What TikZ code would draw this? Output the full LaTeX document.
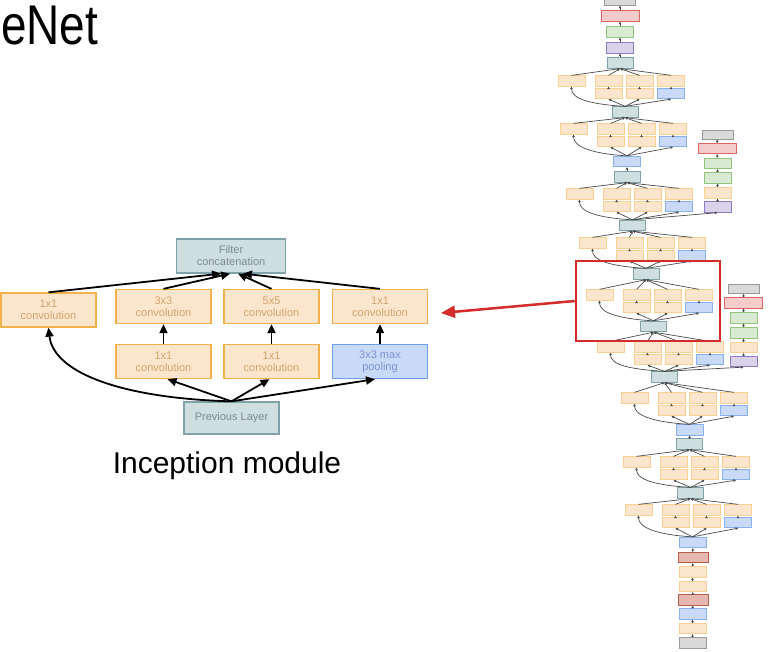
\documentclass[tikz,border=0pt]{standalone}
\usepackage{fontspec}
\setmainfont{Liberation Sans}
\usetikzlibrary{arrows.meta}

\definecolor{orfill}{HTML}{FCE5CD}
\definecolor{ordraw}{HTML}{F1B24A}
\definecolor{ortext}{HTML}{D3A46C}
\definecolor{tefill}{HTML}{CFDFE0}
\definecolor{tedraw}{HTML}{7FA3A8}
\definecolor{tetext}{HTML}{7D8B8C}
\definecolor{blfill}{HTML}{C9DAF8}
\definecolor{bldraw}{HTML}{6D9EEB}
\definecolor{bltext}{HTML}{7C94D6}
\definecolor{grfill}{HTML}{D9D9D9}
\definecolor{grdraw}{HTML}{999999}
\definecolor{rdfill}{HTML}{F4CCCC}
\definecolor{rddraw}{HTML}{E06666}
\definecolor{brfill}{HTML}{E6B8AF}
\definecolor{brdraw}{HTML}{B45F4E}
\definecolor{gnfill}{HTML}{D9EAD3}
\definecolor{gndraw}{HTML}{93C47D}
\definecolor{pufill}{HTML}{D9D2E9}
\definecolor{pudraw}{HTML}{8E7CC3}
\definecolor{focusred}{HTML}{D52B2B}

\tikzset{
  mod/.style={rectangle, line width=1.3pt, minimum width=95pt, minimum height=34pt,
    inner sep=0pt, align=center, font=\fontsize{11}{12}\selectfont},
  modor/.style={mod, draw=ordraw, fill=orfill, text=ortext},
  modte/.style={mod, draw=tedraw, fill=tefill, text=tetext},
  modbl/.style={mod, draw=bldraw, fill=blfill, text=bltext},
  modarrow/.style={line width=1.8pt, -{Triangle[length=9pt,width=8pt]}},
  net/.style={rectangle, line width=0.8pt, minimum width=27pt, minimum height=10.5pt, inner sep=0pt},
  netor/.style={net, draw=ordraw!60, fill=orfill},
  nette/.style={net, draw=tedraw, fill=tefill, minimum width=26pt},
  netbl/.style={net, draw=bldraw!80, fill=blfill},
  netgr/.style={net, draw=grdraw, fill=grfill, minimum width=31pt},
  netrd/.style={net, draw=rddraw, fill=rdfill, minimum width=38pt},
  netbr/.style={net, draw=brdraw, fill=brfill, minimum width=30pt},
  netgn/.style={net, draw=gndraw, fill=gnfill},
  netpu/.style={net, draw=pudraw, fill=pufill},
  netline/.style={line width=0.7pt, draw=black!70, -{Triangle[length=2.5pt,width=2.5pt]}}
}

% one inception block of the network column:
% name, left x, top y, input node, output node
\newcommand{\incblock}[5]{%
  \node[netor] (#1a) at (#2+13.5,#3+5) {};
  \node[netor] (#1b) at (#2+50.5,#3+5) {};
  \node[netor] (#1c) at (#2+81.5,#3+5) {};
  \node[netor] (#1d) at (#2+113,#3+5) {};
  \node[netor] (#1e) at (#2+50.5,#3+17.5) {};
  \node[netor] (#1f) at (#2+81.5,#3+17.5) {};
  \node[netbl] (#1g) at (#2+113,#3+17.5) {};
  \draw[netline] (#4.north) .. controls +(-35,-2) and +(0,12) .. (#1a.south);
  \draw[netline] (#4.north) -- (#1e.south);
  \draw[netline] (#4.north) -- (#1f.south);
  \draw[netline] (#4.north) -- (#1g.south);
  \draw[netline] (#1e) -- (#1b);
  \draw[netline] (#1f) -- (#1c);
  \draw[netline] (#1g) -- (#1d);
  \draw[netline] (#1a.north) -- (#5.south);
  \draw[netline] (#1b.north) -- (#5.south);
  \draw[netline] (#1c.north) -- (#5.south);
  \draw[netline] (#1d.north) -- (#5.south);
}

\begin{document}
\begin{tikzpicture}[x=1pt,y=-1pt]
\tikzstyle{every node}=[font=\fontsize{11}{12}\selectfont]
\useasboundingbox[fill=white] (0,0) rectangle (784,652);

\node[anchor=base west, inner sep=0pt, font=\fontsize{56}{56}\selectfont] (title) at (1,45) {\scalebox{0.82}[1]{eNet}};

% inception module
\node[modte, minimum width=109pt] (concat) at (231,256) {Filter\\concatenation};
\node[modor] (conv1) at (48.5,310) {1x1\\convolution};
\node[modor] (conv3) at (163.5,306.5) {3x3\\convolution};
\node[modor] (conv5) at (271.5,306.5) {5x5\\convolution};
\node[modor] (convp) at (380,306.5) {1x1\\convolution};
\node[modor] (red3) at (163.5,361.5) {1x1\\convolution};
\node[modor] (red5) at (271.5,361.5) {1x1\\convolution};
\node[modbl] (pool) at (380,361.5) {3x3 max\\pooling};
\node[modte, minimum height=32pt] (prev) at (231.5,418) {Previous Layer};

\draw[modarrow] (conv1.north) -- ([xshift=-10pt]concat.south);
\draw[modarrow] (conv3.north) -- ([xshift=-1pt]concat.south);
\draw[modarrow] (conv5.north) -- ([xshift=7pt]concat.south);
\draw[modarrow] (convp.north) -- ([xshift=12pt]concat.south);
\draw[modarrow] (red3) -- (conv3);
\draw[modarrow] (red5) -- (conv5);
\draw[modarrow] (pool) -- (convp);
\draw[modarrow] (prev.north) .. controls +(-110,-3) and +(5,45) .. (conv1.south);
\draw[modarrow] (prev.north) -- ([xshift=4pt]red3.south);
\draw[modarrow] (prev.north) -- ([xshift=-2pt]red5.south);
\draw[modarrow] (prev.north) -- ([xshift=-5pt]pool.south);

\node[anchor=base, font=\fontsize{30}{30}\selectfont] (caption) at (227,473) {Inception module};

% network column, stem
\node[netgr, minimum width=27pt] (s1) at (692.5,643) {};
\node[netor] (s2) at (692.5,628.5) {};
\node[netbl] (s3) at (692.5,614) {};
\node[netbr] (s4) at (693,600) {};
\node[netor] (s5) at (692.5,586.5) {};
\node[netor] (s6) at (692.5,572) {};
\node[netbr] (s7) at (693,557.5) {};
\node[netbl] (s8) at (692.5,542.5) {};
\draw[netline] (s1) -- (s2);
\draw[netline] (s2) -- (s3);
\draw[netline] (s3) -- (s4);
\draw[netline] (s4) -- (s5);
\draw[netline] (s5) -- (s6);
\draw[netline] (s6) -- (s7);
\draw[netline] (s7) -- (s8);

% concat and pooling nodes
\node[nette] (t1) at (690.5,493) {};
\node[nette] (t2) at (689.5,444) {};
\node[netbl] (m2) at (689.5,430) {};
\node[nette] (t3) at (664.5,377) {};
\node[nette] (t4) at (653.5,326.5) {};
\node[nette] (t5) at (646,274) {};
\node[nette] (t6) at (632.5,225.5) {};
\node[nette] (t7) at (627,177) {};
\node[netbl] (m1) at (627,161.5) {};
\node[nette] (t8) at (625,112) {};
\node[nette] (t9) at (620,63) {};
\draw[netline] (t2) -- (m2);
\draw[netline] (t7) -- (m1);

\incblock{bi}{625}{505}{s8}{t1}
\incblock{bh}{623}{457}{t1}{t2}
\incblock{bg}{621}{393}{m2}{t3}
\incblock{bf}{597}{342}{t3}{t4}
\incblock{be}{586}{290}{t4}{t5}
\incblock{bd}{579}{238}{t5}{t6}
\incblock{bc}{566}{189}{t6}{t7}
\incblock{bb}{560}{124}{m1}{t8}
\incblock{ba}{558}{76}{t8}{t9}

% head
\node[netpu] (avg) at (620,48) {};
\node[netgn] (fc) at (620,32) {};
\node[netrd] (soft) at (620,16) {};
\node[netgr] (out) at (620,0) {};
\draw[netline] (t9) -- (avg);
\draw[netline] (avg) -- (fc);
\draw[netline] (fc) -- (soft);
\draw[netline] (soft) -- (out);

% auxiliary classifiers
\node[netpu] (xa1) at (717.5,207) {};
\node[netor] (xa2) at (717.5,193) {};
\node[netgn] (xa3) at (717.5,178) {};
\node[netgn] (xa4) at (717.5,163.5) {};
\node[netrd] (xa5) at (717,148.5) {};
\node[netgr, minimum height=9pt] (xa6) at (717.5,134.5) {};
\draw[netline] (t6.north) -- (xa1.south);
\draw[netline] (xa1) -- (xa2);
\draw[netline] (xa2) -- (xa3);
\draw[netline] (xa3) -- (xa4);
\draw[netline] (xa4) -- (xa5);
\draw[netline] (xa5) -- (xa6);

\node[netpu] (xb1) at (743.5,361.5) {};
\node[netor] (xb2) at (743.5,347.5) {};
\node[netgn] (xb3) at (743.5,333) {};
\node[netgn] (xb4) at (743.5,318) {};
\node[netrd] (xb5) at (743.5,303) {};
\node[netgr, minimum height=9pt] (xb6) at (743.5,289) {};
\draw[netline] (t3.north) -- (xb1.south);
\draw[netline] (xb1) -- (xb2);
\draw[netline] (xb2) -- (xb3);
\draw[netline] (xb3) -- (xb4);
\draw[netline] (xb4) -- (xb5);
\draw[netline] (xb5) -- (xb6);

% highlighted block
\node[draw=focusred, line width=2.5pt, minimum width=144pt, minimum height=80pt, inner sep=0pt] (focus) at (648,301) {};
\coordinate (tip) at (441,313);
\draw[draw=focusred, line width=2.5pt, -{Triangle[length=14pt,width=12pt]}] (focus.west) -- (tip);
\end{tikzpicture}
\end{document}
